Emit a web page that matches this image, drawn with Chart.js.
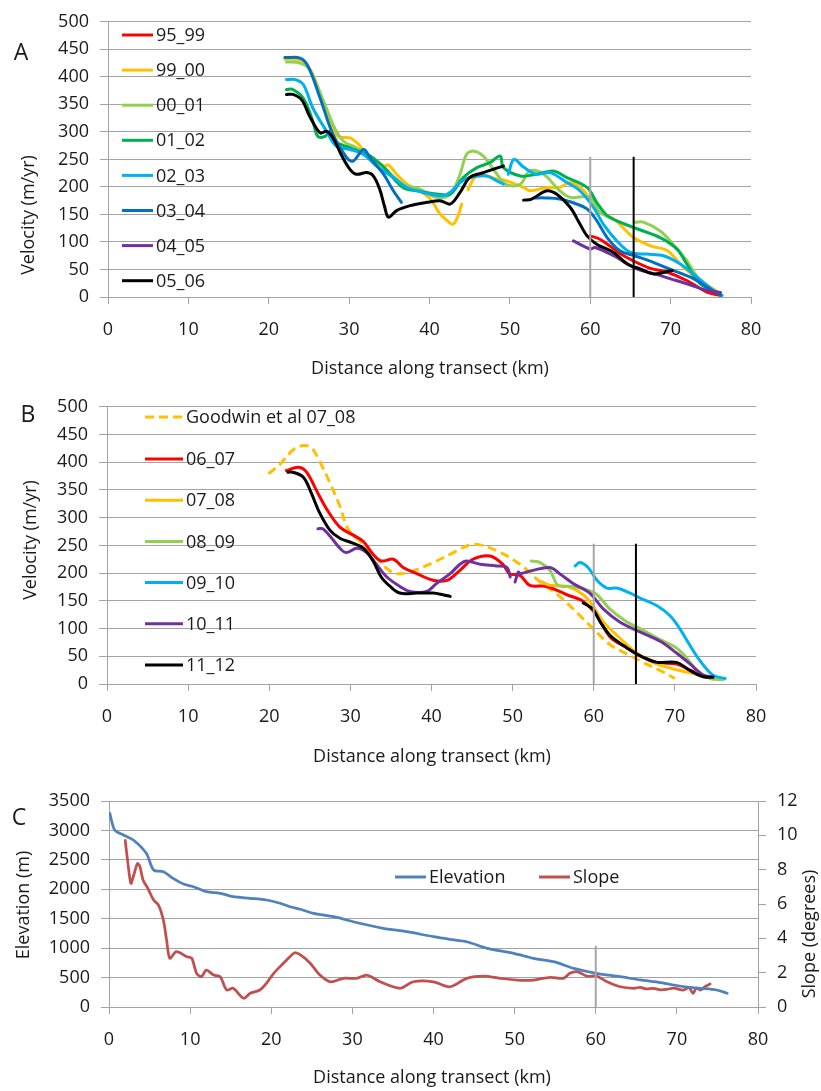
<!DOCTYPE html>
<html>
<head>
<meta charset="utf-8">
<script src="https://cdn.jsdelivr.net/npm/chart.js@4.4.1/dist/chart.umd.min.js"></script>
<style>
  html, body { margin: 0; padding: 0; background: #fff; }
  .panel { position: absolute; left: 0; width: 821px; }
  canvas { display: block; }
</style>
</head>
<body>
<div class="panel" style="top:0"><canvas id="chartA" width="821" height="385"></canvas></div>
<div class="panel" style="top:385px"><canvas id="chartB" width="821" height="385"></canvas></div>
<div class="panel" style="top:770px"><canvas id="chartC" width="821" height="321"></canvas></div>
<script>
// ---------- Panel A: velocity profiles 1995-2006, [km, m/yr] ----------
const a95_99 = [[60,111],[61.2,105],[62.5,92],[63.7,79],[65.3,66],[67.5,52],[69.6,45],[72,30],[74.5,9],[76.2,3]];
const a99_00 = [[22,432],[23.5,432],[24.3,428],[25.3,410],[26.4,368],[27.4,331],[28.6,292],[30.1,289],[31.2,277],[31.8,265],[32.6,256],[34.3,238],[34.9,240],[35.9,223],[37.2,205],[38.4,196],[40.1,178],[41.3,151],[42.1,140],[42.9,132],[43.5,145],[44.0,169],[44.4,null],[44.8,195],[45.5,215],[46.3,223],[48,216],[49.6,211],[51.7,199],[52.5,193],[54.6,199],[56.2,199],[57.5,208],[59.2,193],[60.8,157],[62.9,142],[65.4,108],[67.5,93],[69.6,84],[71.6,54],[73.7,30],[76.2,6]];
const a00_01 = [[22.2,427],[23.9,425],[25.1,413],[27.0,349],[28.2,307],[29.3,283],[30.9,271],[32.6,256],[34.3,236],[36.7,205],[38.8,196],[40.9,181],[42.6,187],[43.8,223],[44.6,259],[45.5,265],[46.7,256],[48.4,223],[49.6,204],[51.3,205],[52.5,229],[54.2,223],[56.2,193],[57.5,181],[60,181],[61.2,154],[62.9,142],[63.5,null],[65.6,136],[66.6,136],[68.7,120],[70.3,96],[72.0,66],[73.7,30],[75.8,9]];
const a01_02 = [[22.2,377],[23.0,377],[24.3,361],[25.5,319],[26.1,292],[27.0,292],[27.6,301],[28.2,283],[30.1,271],[32.6,256],[34.3,236],[36.7,199],[38.8,192],[40.9,187],[42.6,187],[44.2,217],[45.9,235],[47.5,244],[48.8,256],[49.2,235],[51.3,220],[53.3,223],[55.4,229],[57.1,217],[59.6,199],[60.8,172],[62.1,148],[63.7,136],[65.8,124],[68.7,108],[70.8,87],[72.0,60],[73.7,24],[76.2,6]];
const a02_03 = [[22.2,395],[23.3,395],[24.3,386],[25.5,343],[27.2,301],[28.4,274],[30.1,268],[31.8,259],[33.4,238],[35.5,217],[37.2,199],[39.2,190],[41.7,184],[42.8,193],[43.8,208],[45.0,217],[47.1,220],[48.4,211],[49.2,205],[49.5,null],[49.8,223],[50.5,250],[51.7,236],[53.3,223],[55.0,226],[57.1,208],[58.7,193],[60.4,163],[61.6,133],[63.3,102],[65.0,81],[67.0,78],[69.1,75],[71.2,60],[73.3,36],[75.3,12],[76.4,3]];
const a03_04 = [[22.0,435],[23.9,434],[24.9,419],[26.4,361],[28.0,295],[29.7,253],[30.5,247],[31.8,268],[32.6,253],[34.3,223],[35.5,193],[36.5,172],[40,null],[53.0,180],[54.5,180],[56.2,178],[58.3,169],[59.6,160],[60.8,139],[62.1,108],[63.7,84],[65.5,75],[68,62],[70,50],[72.9,33],[74.5,18],[76.2,3]];
const a04_05 = [[57.9,102],[60,87],[60.6,90],[62.9,75],[65.8,51],[68.0,42],[70.0,33],[72.0,24],[74.5,12],[76.2,8]];
const a05_06 = [[22.2,368],[23.0,368],[24.1,358],[25.1,328],[26.4,298],[27.2,301],[28.0,289],[29.0,259],[30.1,232],[30.9,223],[32.2,226],[33.0,220],[33.8,196],[34.4,165],[34.9,145],[35.9,157],[37.6,166],[39.7,172],[41.3,175],[42.6,169],[43.8,190],[45.0,217],[46.7,226],[47.9,232],[49.2,238],[50,null],[51.7,176],[52.7,178],[54.6,193],[55.8,187],[57.5,163],[58.7,133],[59.6,111],[60.8,96],[62.9,81],[64.6,60],[66.2,51],[67.9,42],[70.2,48]];
const aLinesGray = [[60,0],[60,255]];
const aLinesBlack = [[65.4,0],[65.4,255]];

// ---------- Panel B: velocity profiles 2006-2012, [km, m/yr] ----------
const bGoodwin = [[19.9,379],[21.3,396],[23.0,423],[24.2,430],[25.2,426],[26.2,402],[27.5,362],[28.7,321],[29.7,280],[31.2,257],[32.8,234],[34.5,208],[35.7,199],[37.3,202],[40.2,219],[42.7,237],[44.7,251],[46.0,251],[48.4,238],[50.9,216],[53.4,184],[55.8,158],[57.9,129],[59.9,100],[62.0,71],[64.1,54],[66.1,39],[68.2,24],[70.0,10]];
const b06_07 = [[22.1,385],[23.6,391],[24.6,382],[26.0,344],[27.1,315],[28.7,283],[30.3,269],[31.6,257],[32.8,234],[33.8,222],[35.3,225],[36.5,210],[38.2,199],[40.2,187],[41.9,187],[43.5,205],[45.1,225],[47.2,231],[48.8,216],[49.6,199],[50.9,196],[52.1,178],[54.2,176],[56.7,161],[58.7,149],[60.4,123],[62.0,85],[64.1,65],[65.7,51],[67.8,39],[70.2,36],[72,24],[73.9,13]];
const b07_08 = [[53.5,185],[54.6,178],[56.7,176],[58.7,161],[59.9,141],[61.2,112],[63.2,83],[65.3,56],[67.3,39],[69.8,27],[72.3,19],[73.9,13]];
const b08_09 = [[52.3,222],[53.4,219],[54.6,205],[55.6,178],[57.1,176],[59.1,170],[60.4,161],[62.0,135],[64.1,112],[65.7,100],[68.2,80],[70.2,65],[71.4,48],[72.7,24],[74.3,10],[76.0,8]];
const b09_10 = [[57.7,213],[58.3,219],[59.3,210],[60.4,187],[61.6,173],[62.8,173],[64.5,164],[65.7,155],[67.8,141],[69.4,123],[70.6,100],[71.8,71],[73.1,42],[74.7,16],[76.2,10]];
const b10_11 = [[26.0,280],[26.6,280],[27.7,263],[28.7,245],[29.5,237],[30.8,245],[32.0,237],[33.2,216],[34.5,193],[36.1,176],[37.3,167],[39.4,167],[40.6,181],[42.3,199],[43.5,216],[44.3,222],[46.0,216],[48.0,213],[49.3,210],[49.7,193],[50.0,null],[50.3,184],[50.7,202],[50.9,199],[52.5,205],[54.6,210],[55.8,199],[57.5,181],[59.5,164],[61.2,135],[63.2,112],[65.7,94],[68.2,77],[70.2,56],[71.9,36],[73.5,16],[74.7,13]];
const b11_12 = [[22.3,382],[22.9,382],[24.2,373],[25.2,344],[26.2,309],[27.5,277],[28.7,263],[30.3,254],[31.6,245],[32.8,222],[33.8,193],[34.9,176],[36.1,164],[38.2,164],[40.2,164],[41.4,161],[42.3,158],[45,null],[58.7,146],[59.9,135],[60.8,112],[62.0,88],[64.1,65],[66.1,48],[67.8,39],[70.2,39],[71.9,24],[73.5,13],[74.7,12]];
const bLinesGray = [[60,0],[60,253]];
const bLinesBlack = [[65.2,0],[65.2,253]];

// ---------- Panel C: surface elevation (m) and slope (degrees) ----------
const cElevation = [[0.1,3290],[0.7,3007],[1.8,2922],[3.0,2837],[4.6,2611],[5.5,2328],[6.7,2299],[7.9,2186],[9.2,2090],[10.4,2044],[12.0,1959],[13.7,1932],[15.3,1874],[17.4,1847],[19.4,1818],[21.1,1762],[22.3,1704],[23.6,1660],[25.2,1592],[27.7,1534],[30.1,1449],[33.8,1337],[36.7,1279],[40.0,1194],[42,1150],[44.1,1109],[46.6,997],[49.9,912],[52.3,827],[54.8,770],[57.3,657],[60.1,572],[63.0,515],[65.5,459],[68.0,413],[70.8,345],[72.9,318],[74.9,289],[76.2,233]];
const cSlope = [[2.0,9.7],[2.3,8.5],[2.7,7.2],[3.0,7.6],[3.5,8.35],[3.8,8.2],[4.2,7.4],[4.8,6.9],[5.5,6.23],[6.1,5.94],[6.7,5.07],[7.1,3.9],[7.5,2.84],[8.3,3.22],[9.6,2.93],[10.2,2.84],[10.8,1.96],[11.4,1.77],[12.0,2.15],[12.9,1.86],[13.7,1.77],[14.5,0.99],[15.3,1.09],[16.6,0.51],[17.4,0.8],[18.6,0.99],[19.4,1.38],[20.3,1.96],[21.5,2.55],[22.3,2.93],[22.9,3.16],[23.6,3.03],[24.8,2.55],[26.0,1.86],[27.3,1.47],[28.9,1.67],[30.5,1.67],[31.8,1.86],[33.4,1.47],[35.9,1.09],[37.5,1.47],[40.0,1.47],[42.0,1.18],[44.1,1.67],[46.2,1.8],[48.2,1.67],[50.3,1.57],[52.3,1.57],[54.4,1.73],[56.0,1.67],[56.8,1.96],[57.7,2.06],[58.9,1.8],[60.1,1.8],[61.4,1.47],[63.0,1.18],[64.7,1.09],[65.5,1.15],[66.2,1.05],[67.1,1.09],[68.0,1.0],[68.8,1.03],[69.6,1.1],[70.8,0.99],[71.5,1.12],[72.0,0.8],[72.4,1.1],[72.9,0.99],[73.5,1.2],[74.1,1.34]];
const cLineGray = [[60,0],[60,1040]];

// axis ranges and tick steps
const distanceTicks = { min: 0, max: 80, step: 10 };
const velocityTicks = { min: 0, max: 500, step: 50 };
const elevationTicks = { min: 0, max: 3500, step: 500 };
const slopeTicks = { min: 0, max: 12, step: 2 };

const FONT_FAMILY = "'Open Sans', 'Noto Sans', sans-serif";
const TICK_FONT = { family: FONT_FAMILY, size: 18 };
const GRID = '#a3a3a3';
const TEXT = '#1a1a1a';

function series(label, data, color, i, extra) {
  return Object.assign({
    label, data, borderColor: color, backgroundColor: color,
    borderWidth: 3, pointRadius: 0, tension: 0.35, fill: false,
    borderCapStyle: 'round', borderJoinStyle: 'round', order: -i
  }, extra || {});
}
function marker(data, color, width) {
  return { label: '', data, borderColor: color, borderWidth: width, pointRadius: 0,
           tension: 0, fill: false, order: -100, isMarker: true };
}

function xAxis(height) {
  return {
    type: 'linear', position: 'bottom',
    min: distanceTicks.min, max: distanceTicks.max,
    ticks: { stepSize: distanceTicks.step, color: TEXT, font: TICK_FONT, padding: 15, maxRotation: 0, autoSkip: false,
             callback: v => String(v) },
    grid: { drawOnChartArea: false, drawTicks: true, tickLength: 7, color: GRID },
    border: { display: true, color: GRID, width: 1 },
    afterFit(s) { s.height = height; }
  };
}
function yAxis(range, width, position, onArea) {
  return {
    type: 'linear', position: position,
    min: range.min, max: range.max,
    ticks: { stepSize: range.step, color: TEXT, font: TICK_FONT, padding: 11, callback: v => String(v) },
    grid: { drawOnChartArea: onArea, drawTicks: true, tickLength: 8, color: GRID },
    border: { display: true, color: GRID, width: 1 },
    afterFit(s) { s.width = width; }
  };
}

// draws the panel letter, axis titles and the in-plot legend
const decor = {
  id: 'decor',
  afterDraw(chart, args, o) {
    const ctx = chart.ctx;
    ctx.save();
    ctx.fillStyle = TEXT;
    ctx.textBaseline = 'middle';
    ctx.textAlign = 'center';
    ctx.font = "23px " + FONT_FAMILY;
    ctx.fillText(o.letter[0], o.letter[1], o.letter[2]);
    ctx.font = "18px " + FONT_FAMILY;
    ctx.fillText(o.xTitle[0], o.xTitle[1], o.xTitle[2]);
    (o.yTitles || []).forEach(t => {
      ctx.save();
      ctx.translate(t[1], t[2]);
      ctx.rotate(-Math.PI / 2);
      ctx.fillText(t[0], 0, 0);
      ctx.restore();
    });
    // legend
    ctx.textAlign = 'left';
    const L = o.legend;
    const items = chart.data.datasets.filter(d => !d.isMarker);
    items.forEach((d, i) => {
      const pos = L.positions[i];
      ctx.save();
      ctx.strokeStyle = d.borderColor;
      ctx.lineWidth = 3;
      ctx.lineCap = 'butt';
      if (d.borderDash) ctx.setLineDash(d.borderDash);
      ctx.beginPath();
      ctx.moveTo(pos[0], pos[1]);
      ctx.lineTo(pos[0] + L.lineLen, pos[1]);
      ctx.stroke();
      ctx.restore();
      ctx.fillText(d.label, pos[0] + L.lineLen + 3, pos[1] + 1);
    });
    ctx.restore();
  }
};

const baseOptions = {
  responsive: false, animation: false, devicePixelRatio: 1,
  parsing: true, spanGaps: false,
  plugins: { legend: { display: false }, tooltip: { enabled: false } },
  elements: { point: { radius: 0 } }
};

function rows(x, y0, step, n) {
  const out = [];
  for (let i = 0; i < n; i++) out.push([x, y0 + step * i]);
  return out;
}

// ----- Panel A -----
new Chart(document.getElementById('chartA'), {
  type: 'line',
  data: {
    datasets: [
      series('95_99', a95_99, '#FF0000', 0),
      series('99_00', a99_00, '#FFC000', 1),
      series('00_01', a00_01, '#92D050', 2),
      series('01_02', a01_02, '#00B050', 3),
      series('02_03', a02_03, '#00B0F0', 4),
      series('03_04', a03_04, '#0070C0', 5),
      series('04_05', a04_05, '#7030A0', 6),
      series('05_06', a05_06, '#000000', 7),
      marker(aLinesGray, '#A6A6A6', 2),
      marker(aLinesBlack, '#000000', 2)
    ]
  },
  options: Object.assign({}, baseOptions, {
    layout: { padding: { left: 0, right: 70, top: 20, bottom: 0 } },
    scales: { x: xAxis(88), y: yAxis(velocityTicks, 108, 'left', true) },
    plugins: Object.assign({}, baseOptions.plugins, {
      decor: {
        letter: ['A', 21, 53],
        xTitle: ['Distance along transect (km)', 430, 369],
        yTitles: [['Velocity (m/yr)', 29, 215]],
        legend: { lineLen: 31, positions: rows(122, 35, 35.1, 8) }
      }
    })
  }),
  plugins: [decor]
});

// ----- Panel B -----
new Chart(document.getElementById('chartB'), {
  type: 'line',
  data: {
    datasets: [
      series('Goodwin et al 07_08', bGoodwin, '#FFC000', 0, { borderDash: [9, 5], borderCapStyle: 'butt' }),
      series('06_07', b06_07, '#FF0000', 1),
      series('07_08', b07_08, '#FFC000', 2),
      series('08_09', b08_09, '#92D050', 3),
      series('09_10', b09_10, '#00B0F0', 4),
      series('10_11', b10_11, '#7030A0', 5),
      series('11_12', b11_12, '#000000', 6),
      marker(bLinesGray, '#A6A6A6', 2),
      marker(bLinesBlack, '#000000', 2)
    ]
  },
  options: Object.assign({}, baseOptions, {
    layout: { padding: { left: 0, right: 65, top: 12, bottom: 0 } },
    scales: { x: xAxis(86), y: yAxis(velocityTicks, 107, 'left', true) },
    plugins: Object.assign({}, baseOptions.plugins, {
      decor: {
        letter: ['B', 28, 30],
        xTitle: ['Distance along transect (km)', 432, 372],
        yTitles: [['Velocity (m/yr)', 31, 155]],
        legend: { lineLen: 38, positions: [[145, 32]].concat(rows(145, 74, 41.2, 6)) }
      }
    })
  }),
  plugins: [decor]
});

// ----- Panel C -----
const elevAxis = yAxis(elevationTicks, 109, 'left', true);
const slopeAxis = yAxis(slopeTicks, 63, 'right', false);
new Chart(document.getElementById('chartC'), {
  type: 'line',
  data: {
    datasets: [
      series('Elevation', cElevation, '#4F81BD', 1, { yAxisID: 'y', borderWidth: 2.75, tension: 0.3 }),
      series('Slope', cSlope, '#C0504D', 0, { yAxisID: 'y2', borderWidth: 2.75, tension: 0.3 }),
      Object.assign(marker(cLineGray, '#A6A6A6', 2), { yAxisID: 'y' })
    ]
  },
  options: Object.assign({}, baseOptions, {
    layout: { padding: { left: 0, right: 0, top: 31, bottom: 0 } },
    scales: { x: xAxis(84), y: elevAxis, y2: slopeAxis },
    plugins: Object.assign({}, baseOptions.plugins, {
      decor: {
        letter: ['C', 19, 48],
        xTitle: ['Distance along transect (km)', 432, 308],
        yTitles: [['Elevation (m)', 24, 135], ['Slope (degrees)', 810, 164]],
        legend: { lineLen: 31, positions: [[395, 107], [539, 107]] }
      }
    })
  }),
  plugins: [decor]
});
</script>
</body>
</html>
